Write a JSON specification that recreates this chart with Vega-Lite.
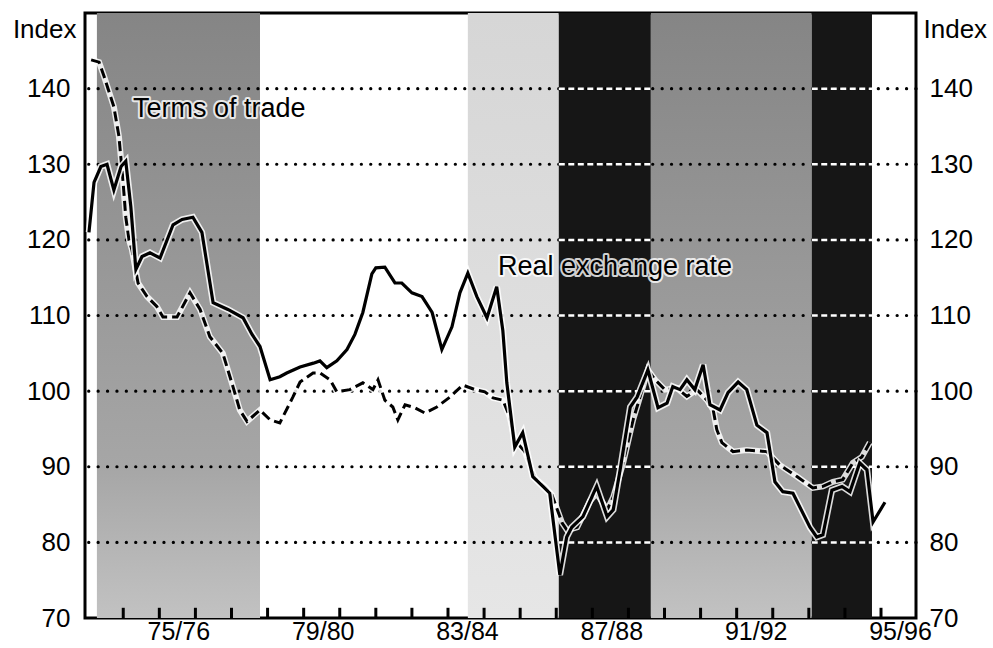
{
  "$schema": "https://vega.github.io/schema/vega-lite/v6.json",
  "width": 831,
  "height": 605,
  "autosize": {"type": "none"},
  "padding": {"left": 85, "top": 13, "right": 77, "bottom": 30},
  "background": "white",
  "config": {
    "view": {"stroke": "black", "strokeWidth": 3},
    "font": "Liberation Sans",
    "text": {"font": "Liberation Sans"}
  },
  "datasets": {
    "regions": [
      {"t": 1973.27, "t2": 1977.79, "k": "mid"},
      {"t": 1983.55, "t2": 1986.07, "k": "light"},
      {"t": 1986.07, "t2": 1988.62, "k": "dark"},
      {"t": 1988.62, "t2": 1993.08, "k": "mid"},
      {"t": 1993.08, "t2": 1994.75, "k": "dark"}
    ],
    "grid": [{"v": 80}, {"v": 90}, {"v": 100}, {"v": 110}, {"v": 120}, {"v": 130}, {"v": 140}],
    "ticks": [
      {"t": 1974}, {"t": 1975}, {"t": 1976}, {"t": 1977}, {"t": 1978}, {"t": 1979}, {"t": 1980}, {"t": 1981},
      {"t": 1982}, {"t": 1983}, {"t": 1984}, {"t": 1985}, {"t": 1986}, {"t": 1987}, {"t": 1988}, {"t": 1989},
      {"t": 1990}, {"t": 1991}, {"t": 1992}, {"t": 1993}, {"t": 1994}, {"t": 1995}
    ],
    "darkgrid": [
      {"t": 1986.07, "t2": 1988.62, "g": [80, 90, 100, 110, 120, 130, 140]},
      {"t": 1993.08, "t2": 1994.75, "g": [80, 90, 100, 110, 120, 130, 140]}
    ],
    "rer": [
      {"t": 1973.05, "v": 121.0}, {"t": 1973.19, "v": 127.6}, {"t": 1973.38, "v": 129.7}, {"t": 1973.55, "v": 130.0},
      {"t": 1973.74, "v": 126.6}, {"t": 1973.94, "v": 129.7}, {"t": 1974.07, "v": 130.4}, {"t": 1974.21, "v": 124.4},
      {"t": 1974.35, "v": 116.1}, {"t": 1974.52, "v": 117.8}, {"t": 1974.74, "v": 118.3}, {"t": 1975.02, "v": 117.6},
      {"t": 1975.38, "v": 122.0}, {"t": 1975.63, "v": 122.7}, {"t": 1975.93, "v": 123.0}, {"t": 1976.18, "v": 121.0},
      {"t": 1976.49, "v": 111.7}, {"t": 1976.90, "v": 110.8}, {"t": 1977.32, "v": 109.7}, {"t": 1977.57, "v": 107.5},
      {"t": 1977.79, "v": 105.9}, {"t": 1978.07, "v": 101.5}, {"t": 1978.34, "v": 101.9}, {"t": 1978.53, "v": 102.4},
      {"t": 1978.90, "v": 103.2}, {"t": 1979.27, "v": 103.7}, {"t": 1979.45, "v": 104.0}, {"t": 1979.64, "v": 103.1},
      {"t": 1979.92, "v": 104.0}, {"t": 1980.20, "v": 105.5}, {"t": 1980.42, "v": 107.5}, {"t": 1980.64, "v": 110.4},
      {"t": 1980.89, "v": 115.5}, {"t": 1981.00, "v": 116.3}, {"t": 1981.25, "v": 116.4}, {"t": 1981.53, "v": 114.3},
      {"t": 1981.72, "v": 114.3}, {"t": 1982.00, "v": 113.0}, {"t": 1982.28, "v": 112.5}, {"t": 1982.56, "v": 110.4},
      {"t": 1982.83, "v": 105.5}, {"t": 1983.11, "v": 108.5}, {"t": 1983.33, "v": 113.0}, {"t": 1983.55, "v": 115.6},
      {"t": 1983.80, "v": 112.5}, {"t": 1984.08, "v": 109.7}, {"t": 1984.35, "v": 113.8}, {"t": 1984.52, "v": 108.0},
      {"t": 1984.63, "v": 101.1}, {"t": 1984.85, "v": 92.6}, {"t": 1985.07, "v": 94.5}, {"t": 1985.35, "v": 88.7},
      {"t": 1985.63, "v": 87.4}, {"t": 1985.82, "v": 86.5}, {"t": 1986.10, "v": 75.7}, {"t": 1986.29, "v": 80.7},
      {"t": 1986.43, "v": 82.0}, {"t": 1986.74, "v": 83.4}, {"t": 1987.12, "v": 87.4}, {"t": 1987.41, "v": 83.4},
      {"t": 1987.58, "v": 84.3}, {"t": 1987.77, "v": 89.6}, {"t": 1988.05, "v": 97.9}, {"t": 1988.24, "v": 99.2},
      {"t": 1988.54, "v": 102.8}, {"t": 1988.82, "v": 97.8}, {"t": 1989.07, "v": 98.4}, {"t": 1989.23, "v": 100.6},
      {"t": 1989.43, "v": 100.2}, {"t": 1989.62, "v": 101.5}, {"t": 1989.84, "v": 100.2}, {"t": 1990.07, "v": 103.5},
      {"t": 1990.26, "v": 98.2}, {"t": 1990.54, "v": 97.5}, {"t": 1990.76, "v": 99.8}, {"t": 1991.04, "v": 101.2},
      {"t": 1991.28, "v": 100.2}, {"t": 1991.56, "v": 95.5}, {"t": 1991.84, "v": 94.5}, {"t": 1992.06, "v": 88.0},
      {"t": 1992.28, "v": 86.7}, {"t": 1992.56, "v": 86.5}, {"t": 1993.03, "v": 82.0}, {"t": 1993.22, "v": 80.7},
      {"t": 1993.39, "v": 81.0}, {"t": 1993.64, "v": 86.9}, {"t": 1993.92, "v": 87.4}, {"t": 1994.14, "v": 86.7},
      {"t": 1994.41, "v": 90.5}, {"t": 1994.61, "v": 89.6}, {"t": 1994.78, "v": 82.7}, {"t": 1995.11, "v": 85.3}
    ],
    "tot": [
      {"t": 1973.11, "v": 143.8}, {"t": 1973.33, "v": 143.5}, {"t": 1973.47, "v": 141.6}, {"t": 1973.74, "v": 137.6},
      {"t": 1973.88, "v": 133.7}, {"t": 1973.99, "v": 128.0}, {"t": 1974.07, "v": 123.0}, {"t": 1974.16, "v": 120.0},
      {"t": 1974.24, "v": 118.7}, {"t": 1974.41, "v": 114.3}, {"t": 1974.66, "v": 112.5}, {"t": 1974.93, "v": 111.2},
      {"t": 1975.10, "v": 109.8}, {"t": 1975.49, "v": 109.8}, {"t": 1975.85, "v": 113.0}, {"t": 1976.13, "v": 110.8},
      {"t": 1976.40, "v": 107.2}, {"t": 1976.76, "v": 105.0}, {"t": 1977.04, "v": 100.6}, {"t": 1977.23, "v": 97.5},
      {"t": 1977.43, "v": 96.0}, {"t": 1977.79, "v": 97.5}, {"t": 1978.07, "v": 96.2}, {"t": 1978.34, "v": 95.8},
      {"t": 1978.70, "v": 99.2}, {"t": 1978.90, "v": 101.2}, {"t": 1979.26, "v": 102.4}, {"t": 1979.45, "v": 102.4},
      {"t": 1979.73, "v": 101.5}, {"t": 1979.92, "v": 99.9}, {"t": 1980.28, "v": 100.2}, {"t": 1980.64, "v": 101.1},
      {"t": 1980.92, "v": 100.2}, {"t": 1981.06, "v": 101.5}, {"t": 1981.25, "v": 98.8}, {"t": 1981.47, "v": 97.9},
      {"t": 1981.61, "v": 96.2}, {"t": 1981.81, "v": 98.2}, {"t": 1982.08, "v": 97.8}, {"t": 1982.36, "v": 97.1},
      {"t": 1982.69, "v": 97.9}, {"t": 1983.05, "v": 99.2}, {"t": 1983.41, "v": 100.8}, {"t": 1983.75, "v": 100.2},
      {"t": 1984.02, "v": 99.9}, {"t": 1984.25, "v": 99.1}, {"t": 1984.52, "v": 98.8}, {"t": 1984.71, "v": 96.6},
      {"t": 1984.85, "v": 93.5}, {"t": 1985.13, "v": 92.0}, {"t": 1985.41, "v": 88.5}, {"t": 1985.69, "v": 87.3},
      {"t": 1985.88, "v": 86.3}, {"t": 1986.16, "v": 82.6}, {"t": 1986.30, "v": 81.6}, {"t": 1986.58, "v": 82.0},
      {"t": 1986.94, "v": 85.5}, {"t": 1987.12, "v": 86.5}, {"t": 1987.41, "v": 84.3}, {"t": 1987.58, "v": 86.0},
      {"t": 1987.86, "v": 90.6}, {"t": 1988.13, "v": 96.2}, {"t": 1988.32, "v": 99.2}, {"t": 1988.54, "v": 102.8},
      {"t": 1988.74, "v": 101.5}, {"t": 1989.01, "v": 100.2}, {"t": 1989.35, "v": 100.4}, {"t": 1989.62, "v": 99.3},
      {"t": 1989.90, "v": 100.2}, {"t": 1990.18, "v": 98.8}, {"t": 1990.35, "v": 97.5}, {"t": 1990.45, "v": 94.9},
      {"t": 1990.59, "v": 93.2}, {"t": 1990.90, "v": 92.0}, {"t": 1991.28, "v": 92.2}, {"t": 1991.84, "v": 92.0},
      {"t": 1992.20, "v": 90.2}, {"t": 1992.67, "v": 88.7}, {"t": 1993.11, "v": 87.2}, {"t": 1993.39, "v": 87.4},
      {"t": 1993.67, "v": 88.0}, {"t": 1993.94, "v": 88.3}, {"t": 1994.22, "v": 90.5}, {"t": 1994.47, "v": 91.3},
      {"t": 1994.69, "v": 93.2}
    ],
    "labels": [
      {"t": 1974.27, "v": 136.2, "label": "Terms of trade"},
      {"t": 1984.385, "v": 115.4, "label": "Real exchange rate"}
    ]
  },
  "layer": [
    {
      "data": {"name": "regions"},
      "transform": [{"filter": "datum.k == 'mid'"}],
      "mark": {
        "type": "rect",
        "color": {
          "gradient": "linear", "x1": 0, "y1": 0, "x2": 0, "y2": 1,
          "stops": [
            {"offset": 0, "color": "#858585"},
            {"offset": 0.45, "color": "#999999"},
            {"offset": 0.75, "color": "#a6a6a6"},
            {"offset": 1, "color": "#c2c2c2"}
          ]
        }
      },
      "encoding": {
        "x": {
          "field": "t", "type": "quantitative", "title": null,
          "scale": {"domain": [1972.94, 1995.97], "nice": false, "zero": false},
          "axis": {
            "orient": "bottom",
            "values": [1975, 1979, 1983, 1987, 1991, 1995],
            "labelExpr": "slice('' + datum.value, 2) + '/' + slice('' + (datum.value + 1), 2)",
            "ticks": false,
            "domain": false,
            "grid": false,
            "labelFontSize": 25,
            "labelColor": "black",
            "labelOffset": 19,
            "labelPadding": 1,
            "labelFlush": false,
            "labelOverlap": false,
            "labelBound": false
          }
        },
        "x2": {"field": "t2"}
      }
    },
    {
      "data": {"name": "regions"},
      "transform": [{"filter": "datum.k == 'light'"}],
      "mark": {
        "type": "rect",
        "color": {
          "gradient": "linear", "x1": 0, "y1": 0, "x2": 0, "y2": 1,
          "stops": [
            {"offset": 0, "color": "#d6d6d6"},
            {"offset": 1, "color": "#e6e6e6"}
          ]
        }
      },
      "encoding": {
        "x": {"field": "t", "type": "quantitative", "title": null},
        "x2": {"field": "t2"}
      }
    },
    {
      "data": {"name": "regions"},
      "transform": [{"filter": "datum.k == 'dark'"}],
      "mark": {"type": "rect", "color": "#161616"},
      "encoding": {
        "x": {"field": "t", "type": "quantitative", "title": null},
        "x2": {"field": "t2"}
      }
    },
    {
      "data": {"name": "grid"},
      "mark": {"type": "rule", "color": "black", "strokeWidth": 3.2, "strokeDash": [0.1, 9.3], "strokeCap": "round"},
      "encoding": {
        "y": {
          "field": "v", "type": "quantitative",
          "scale": {"domain": [70, 150], "nice": false, "zero": false},
          "axis": {
            "orient": "left",
            "values": [70, 80, 90, 100, 110, 120, 130, 140],
            "title": "Index",
            "titleAngle": 0,
            "titleAlign": "right",
            "titleBaseline": "alphabetic",
            "titleX": -9,
            "titleY": 24,
            "titleFontSize": 26,
            "titleFontWeight": "normal",
            "titleColor": "black",
            "labelFontSize": 26,
            "labelColor": "black",
            "labelPadding": 15,
            "labelOverlap": false,
            "labelFlush": false,
            "labelBound": false,
            "ticks": false,
            "domain": false,
            "grid": false
          }
        }
      }
    },
    {
      "data": {"name": "darkgrid"},
      "transform": [{"flatten": ["g"]}],
      "mark": {"type": "rule", "color": "white", "strokeWidth": 2.5, "strokeDash": [6, 3.5]},
      "encoding": {
        "x": {"field": "t", "type": "quantitative", "title": null},
        "x2": {"field": "t2"},
        "y": {"field": "g", "type": "quantitative", "scale": {"domain": [70, 150], "nice": false, "zero": false}, "axis": null}
      }
    },
    {
      "data": {"name": "ticks"},
      "mark": {"type": "rule", "color": "black", "strokeWidth": 3},
      "encoding": {
        "x": {"field": "t", "type": "quantitative", "title": null},
        "y": {"datum": 70, "type": "quantitative", "scale": {"domain": [70, 150], "nice": false, "zero": false}, "axis": null},
        "y2": {"datum": 71.35}
      }
    },
    {
      "data": {"name": "tot"},
      "mark": {"type": "line", "color": "white", "strokeWidth": 6, "opacity": 0.85, "strokeJoin": "miter"},
      "encoding": {
        "x": {"field": "t", "type": "quantitative", "title": null},
        "y": {"field": "v", "type": "quantitative", "scale": {"domain": [70, 150], "nice": false, "zero": false}, "axis": null}
      }
    },
    {
      "data": {"name": "tot"},
      "mark": {"type": "line", "color": "black", "strokeWidth": 3, "strokeDash": [10, 5]},
      "encoding": {
        "x": {"field": "t", "type": "quantitative", "title": null},
        "y": {"field": "v", "type": "quantitative", "scale": {"domain": [70, 150], "nice": false, "zero": false}, "axis": null}
      }
    },
    {
      "data": {"name": "rer"},
      "mark": {"type": "line", "color": "white", "strokeWidth": 6.5, "opacity": 0.85},
      "encoding": {
        "x": {"field": "t", "type": "quantitative", "title": null},
        "y": {"field": "v", "type": "quantitative", "scale": {"domain": [70, 150], "nice": false, "zero": false}, "axis": null}
      }
    },
    {
      "data": {"name": "rer"},
      "mark": {"type": "line", "color": "black", "strokeWidth": 3.2},
      "encoding": {
        "x": {"field": "t", "type": "quantitative", "title": null},
        "y": {
          "field": "v", "type": "quantitative",
          "scale": {"domain": [70, 150], "nice": false, "zero": false},
          "axis": {
            "orient": "right",
            "values": [70, 80, 90, 100, 110, 120, 130, 140],
            "title": "Index",
            "titleAngle": 0,
            "titleAlign": "left",
            "titleBaseline": "alphabetic",
            "titleX": 7,
            "titleY": 24,
            "titleFontSize": 26,
            "titleFontWeight": "normal",
            "titleColor": "black",
            "labelFontSize": 26,
            "labelColor": "black",
            "labelPadding": 13,
            "labelOverlap": false,
            "labelFlush": false,
            "labelBound": false,
            "ticks": false,
            "domain": false,
            "grid": false
          }
        }
      }
    },
    {
      "data": {"name": "labels"},
      "mark": {"type": "text", "align": "left", "baseline": "alphabetic", "fontSize": 27, "color": "white", "stroke": "white", "strokeWidth": 4, "strokeJoin": "round", "opacity": 0.8},
      "encoding": {
        "x": {"field": "t", "type": "quantitative", "title": null},
        "y": {"field": "v", "type": "quantitative", "scale": {"domain": [70, 150], "nice": false, "zero": false}, "axis": null},
        "text": {"field": "label"}
      }
    },
    {
      "data": {"name": "labels"},
      "mark": {"type": "text", "align": "left", "baseline": "alphabetic", "fontSize": 27, "color": "black"},
      "encoding": {
        "x": {"field": "t", "type": "quantitative", "title": null},
        "y": {"field": "v", "type": "quantitative", "scale": {"domain": [70, 150], "nice": false, "zero": false}, "axis": null},
        "text": {"field": "label"}
      }
    }
  ],
  "resolve": {"axis": {"y": "independent"}}
}
